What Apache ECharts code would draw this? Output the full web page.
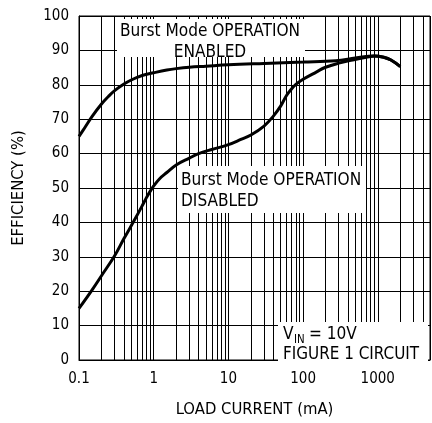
<!DOCTYPE html>
<html><head><meta charset="utf-8">
<script src="https://cdn.jsdelivr.net/npm/echarts@6/dist/echarts.min.js"></script>
<style>html,body{margin:0;padding:0;background:#fff}#c{width:432px;height:423px}</style>
</head><body><div id="c"></div>
<script>
var FONT = '"DejaVu Sans Condensed","DejaVu Sans",sans-serif';
// Burst Mode ENABLED curve: [load current mA, efficiency %]
var enabledX = [0.1, 0.12, 0.15, 0.2, 0.25, 0.3, 0.4, 0.5, 0.7, 1, 1.5, 2, 3, 5, 10, 30, 100, 273, 500, 700, 900, 1200, 1500, 2000];
var enabledY = [65, 67.6, 70.8, 74.4, 76.7, 78.3, 80.2, 81.4, 82.7, 83.5, 84.3, 84.7, 85.1, 85.4, 85.8, 86.2, 86.6, 87.0, 87.8, 88.2, 88.4, 88.0, 87.2, 85.3];
// Burst Mode DISABLED curve
var disabledX = [0.1, 0.15, 0.2, 0.3, 0.4, 0.55, 0.7, 0.8, 0.9, 1, 1.2, 1.5, 2, 3, 4, 6, 10, 15, 20, 30, 40, 50, 60, 70, 80, 100, 150, 200, 300, 460, 700, 900, 1200, 1500, 2000];
var disabledY = [15, 20.4, 24.5, 30.3, 35.3, 40.6, 44.8, 47.2, 49.1, 50.6, 52.7, 54.5, 56.7, 58.7, 60, 61.2, 62.6, 64.2, 65.4, 68, 70.9, 73.8, 76.9, 78.8, 80.1, 81.6, 83.7, 85.1, 86.3, 87.2, 88.0, 88.4, 88.0, 87.2, 85.3];
var xTickLabels = ['0.1', '1', '10', '100', '1000'];
var yTicks = [0, 10, 20, 30, 40, 50, 60, 70, 80, 90, 100];
var decades = [0.1, 1, 10, 100, 1000];
var minorMult = [2, 3, 4, 5, 6, 7, 8, 9];

function pairs(xs, ys) { return xs.map(function (x, i) { return [x, ys[i]]; }); }
var minorLines = [];
decades.forEach(function (d) {
  minorMult.forEach(function (m) {
    var v = +(d * m).toPrecision(3);
    if (v < 5000) minorLines.push({ xAxis: v });
  });
});

var chart = echarts.init(document.getElementById('c'), null, { renderer: 'canvas' });
function T(text, x, y, size, align, sx) {
  return { type: 'text', z: 51, x: x, y: y, scaleX: sx || 1,
    style: { text: text, fontSize: size, fontFamily: FONT, fill: '#000', align: align, verticalAlign: 'middle' } };
}
chart.setOption({
  animation: false,
  grid: { left: 79, right: 2, top: 16, bottom: 55, show: true, borderColor: '#000', borderWidth: 1, backgroundColor: 'transparent' },
  xAxis: {
    type: 'log', logBase: 10, min: 0.1, max: 5000,
    name: 'LOAD CURRENT (mA)', nameLocation: 'middle', nameGap: 41,
    nameTextStyle: { fontFamily: FONT, fontSize: 16.5, color: '#000' },
    axisLine: { lineStyle: { color: '#000', width: 1 } },
    axisTick: { show: false },
    axisLabel: {
      fontFamily: FONT, fontSize: 15, color: '#000', margin: 12, showMaxLabel: false,
      formatter: function (v) { var s = xTickLabels.filter(function (t) { return Math.abs(parseFloat(t) - v) / v < 1e-6; }); return s.length ? s[0] : ''; }
    },
    splitLine: { show: true, lineStyle: { color: '#000', width: 1 } }
  },
  yAxis: {
    type: 'value', min: yTicks[0], max: yTicks[yTicks.length - 1], interval: 10,
    name: 'EFFICIENCY (%)', nameLocation: 'middle', nameGap: 52,
    nameTextStyle: { fontFamily: FONT, fontSize: 16.5, color: '#000' },
    axisLine: { show: true, lineStyle: { color: '#000', width: 1 } },
    axisTick: { show: false },
    axisLabel: { fontFamily: FONT, fontSize: 15, color: '#000', margin: 10 },
    splitLine: { show: true, lineStyle: { color: '#000', width: 1 } }
  },
  series: [
    {
      type: 'line', data: pairs(enabledX, enabledY), smooth: 0.4, showSymbol: false,
      lineStyle: { color: '#000', width: 3 }, z: 5,
      markLine: { silent: true, symbol: 'none', label: { show: false }, lineStyle: { color: '#000', width: 1, type: 'solid' }, data: minorLines, z: 1 }
    },
    {
      type: 'line', data: pairs(disabledX, disabledY), smooth: 0.4, showSymbol: false,
      lineStyle: { color: '#000', width: 3 }, z: 5
    }
  ],
  graphic: [
    { type: 'rect', z: 50, shape: { x: 117, y: 19, width: 188, height: 38 }, style: { fill: '#fff' } },
    T('Burst Mode OPERATION', 210, 31, 18, 'center', 0.95),
    T('ENABLED', 210, 52, 18, 'center', 0.95),

    { type: 'rect', z: 50, shape: { x: 178, y: 166, width: 188, height: 47 }, style: { fill: '#fff' } },
    T('Burst Mode OPERATION', 181, 180, 18, 'left', 0.95),
    T('DISABLED', 181, 201, 18, 'left', 0.95),

    { type: 'rect', z: 50, shape: { x: 278, y: 322, width: 150, height: 45 }, style: { fill: '#fff' } },
    T('V', 283, 334, 18, 'left', 0.95),
    T('IN', 294, 340, 12, 'left', 0.95),
    T('= 10V', 309, 334, 18, 'left', 0.95),
    T('FIGURE 1 CIRCUIT', 283, 354, 18, 'left', 0.94)
  ]
});
</script></body></html>
